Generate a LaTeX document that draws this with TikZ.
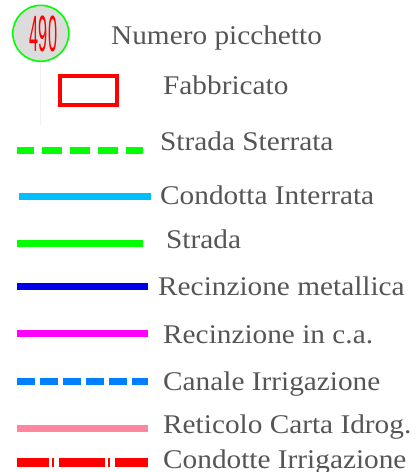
\documentclass[tikz,border=0pt]{standalone}
\usepackage{fontspec}
\setmainfont{Liberation Serif}
\newfontfamily\numfont{Liberation Sans}
\definecolor{txtgray}{HTML}{555555}
\definecolor{cgreen}{HTML}{00FF00}
\definecolor{ccyan}{HTML}{00BFFF}
\definecolor{cblue}{HTML}{0000E6}
\definecolor{cmag}{HTML}{FF00FF}
\definecolor{cdblue}{HTML}{0080FF}
\definecolor{cpink}{HTML}{FF869E}
\definecolor{cred}{HTML}{FF0000}
\definecolor{cfill}{HTML}{DCDCDC}
\definecolor{faint}{HTML}{F0F0F0}
\begin{document}
\begin{tikzpicture}[x=1pt,y=-1pt,
  lbl/.style={anchor=base west,inner sep=0pt,text=txtgray,font=\fontsize{27}{27}\selectfont},
  legline/.style={line width=7pt}]
\useasboundingbox (0,0) rectangle (420,472);
% picchetto symbol
\draw[faint,line width=1pt] (40.7,62) -- (40.7,125);
\node[circle,draw=cgreen,fill=cfill,line width=1.6pt,minimum size=56pt,inner sep=0pt] (pic) at (40.8,33.3) {};
\node[inner sep=0pt,text=cred,font=\numfont\fontsize{51}{51}\selectfont] (num) at (43.5,34) {\scalebox{0.32}[1]{490}};
% fabbricato
\draw[cred,line width=4pt] (60,76) rectangle (117,105);
% lines
\draw[legline,cgreen,dash pattern=on 20pt off 8pt,dash phase=3pt] (17,150.5) -- (143,150.5);
\draw[legline,ccyan] (19,196.5) -- (151,196.5);
\draw[legline,cgreen] (17,243.5) -- (143,243.5);
\draw[legline,cblue] (17,286.5) -- (148,286.5);
\draw[legline,cmag] (17,333.5) -- (148,333.5);
\draw[legline,cdblue,dash pattern=on 18pt off 5pt] (17,381.5) -- (148,381.5);
\draw[legline,cpink] (17,428) -- (148,428);
\draw[line width=9pt,cred,dash pattern=on 46pt off 3pt on 1.5pt off 5.5pt,dash phase=14pt] (17,462) -- (148,462);
% labels
\node[lbl] (l1) at (111,44) {\scalebox{1.085}[1]{Numero picchetto}};
\node[lbl] (l2) at (163,94) {\scalebox{1.085}[1]{Fabbricato}};
\node[lbl] (l3) at (160,150) {\scalebox{1.085}[1]{Strada Sterrata}};
\node[lbl] (l4) at (160,204.5) {\scalebox{1.085}[1]{Condotta Interrata}};
\node[lbl] (l5) at (166,248) {\scalebox{1.085}[1]{Strada}};
\node[lbl] (l6) at (158,295) {\scalebox{1.085}[1]{Recinzione metallica}};
\node[lbl] (l7) at (163,343) {\scalebox{1.085}[1]{Recinzione in c.a.}};
\node[lbl] (l8) at (163,390) {\scalebox{1.085}[1]{Canale Irrigazione}};
\node[lbl] (l9) at (163,433) {\scalebox{1.085}[1]{Reticolo Carta Idrog.}};
\node[lbl] (l10) at (163,468) {\scalebox{1.085}[1]{Condotte Irrigazione}};
\end{tikzpicture}
\end{document}
